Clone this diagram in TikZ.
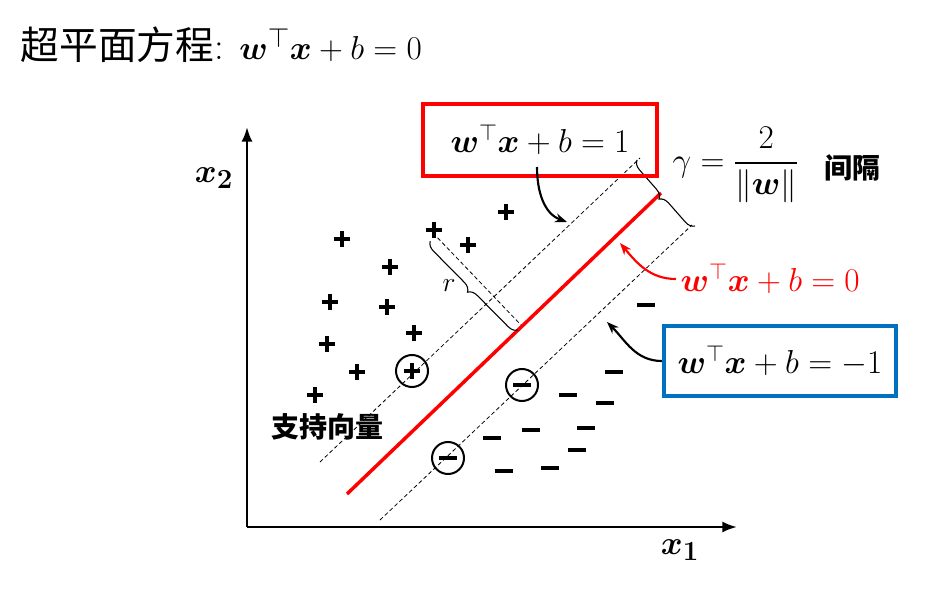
\documentclass[tikz,border=0pt]{standalone}
\usepackage{fontspec}
\usepackage{amsmath,bm}
\newfontfamily\cjk{Noto Sans CJK SC}
\usetikzlibrary{decorations.pathreplacing,arrows.meta}
\begin{document}
\begin{tikzpicture}[x=0.75pt,y=-0.75pt,
  eq/.style={font=\fontsize{24}{28}\selectfont},
  dline/.style={densely dashed,line width=0.6pt},
  brc/.style={decorate,decoration={brace,amplitude=7pt},line width=0.8pt},
  mk/.style={line width=2.4pt},
  circ/.style={draw,circle,line width=1.5pt,minimum size=24pt,inner sep=0pt},
  arr/.style={-{Stealth[length=9pt]},line width=1.6pt}]
\useasboundingbox (0,0) rectangle (942,595);
\node[anchor=west,font=\fontsize{29}{32}\selectfont] (title) at (16,45) {{\cjk 超平面方程}: $\bm{w}^\top\bm{x}+b=0$};
% axes
\coordinate (o) at (247,527);
\coordinate (ytop) at (247,127);
\coordinate (xend) at (737,527);
\draw[line width=1.8pt,-{Latex[length=11pt]}] (o) -- (ytop);
\draw[line width=1.8pt,-{Latex[length=11pt]}] (o) -- (xend);
\node[font=\fontsize{30}{30}\selectfont] (x2) at (214,178) {$\bm{x_2}$};
\node[font=\fontsize{30}{30}\selectfont] (x1) at (680,550) {$\bm{x_1}$};
% lines
\coordinate (u1) at (320,462); \coordinate (u2) at (640,158);
\coordinate (l1) at (380,520); \coordinate (l2) at (692,225);
\coordinate (h1) at (347,494); \coordinate (h2) at (661,193);
\draw[dline] (u1) -- (u2);
\draw[dline] (l1) -- (l2);
\draw[red,line width=2.6pt] (h1) -- (h2);
% r
\coordinate (r1) at (433,233); \coordinate (r2) at (521,325);
\draw[dline] (r1) -- (r2);
\draw[brc] (518,330) -- (430,241) node[midway,left=10pt,font=\fontsize{22}{22}\selectfont] (r) {$r$};
% gamma
\draw[brc] (695,226) -- (637,160);
\node[eq,anchor=west] (gam) at (668,165) {$\gamma=\dfrac{2}{\|\bm{w}\|}$};
\node[font=\fontsize{21}{21}\selectfont\cjk\bfseries,anchor=west] (jg) at (820,168) {间隔};
% boxes
\node[eq,draw=red,line width=3.2pt,minimum width=175pt,minimum height=54pt,inner sep=0pt] (b1) at (540,140) {$\bm{w}^\top\bm{x}+b=1$};
\node[eq,draw={rgb,255:red,0;green,112;blue,192},line width=3.2pt,minimum width=174pt,minimum height=53pt,inner sep=0pt] (b2) at (780,361) {$\bm{w}^\top\bm{x}+b=-1$};
\node[eq,red,anchor=west] (b0) at (676,279) {$\bm{w}^\top\bm{x}+b=0$};
\coordinate (a1) at (567,222);
\coordinate (a0) at (620,243);
\coordinate (a2) at (607,322);
\draw[arr] (537,167) to[out=-90,in=160] (a1);
\draw[arr,red] (b0.west) to[out=180,in=-50] (a0);
\draw[arr] (b2.west) to[out=180,in=-45] (a2);
% points
\foreach \p/\q in {506/212,342/239,434/230,468/245,390/267,330/302,387/307,414/333,327/344,357/372,315/395,412/371}
  \draw[mk] (\p-8,\q) -- (\p+8,\q) (\p,\q-8) -- (\p,\q+8);
\foreach \p/\q in {646/305,614/372,568/395,605/403,531/430,586/428,492/438,577/450,550/468,504/471,522/385,448/458}
  \draw[mk] (\p-9,\q) -- (\p+9,\q);
\node[circ] (s1) at (412,371) {};
\node[circ] (s2) at (522,385) {};
\node[circ] (s3) at (448,458) {};
\node[font=\fontsize{21}{21}\selectfont\cjk\bfseries] (sv) at (327,427) {支持向量};
\end{tikzpicture}
\end{document}
